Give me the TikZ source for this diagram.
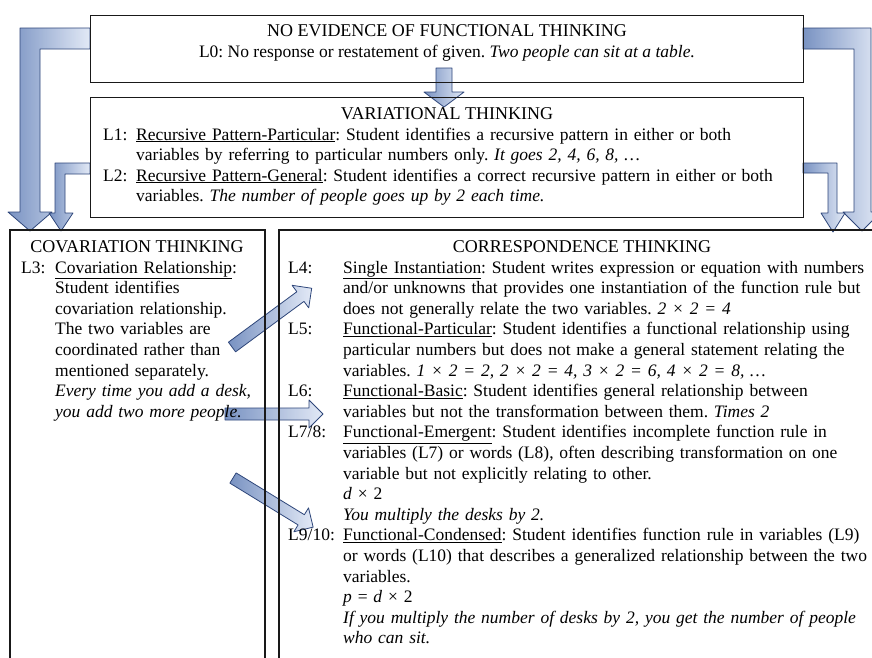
\documentclass[tikz,border=0pt]{standalone}
\usepackage{fontspec}
\setmainfont{Liberation Serif}
\usepackage{xcolor}
\usetikzlibrary{positioning,backgrounds}
\definecolor{arrowdark}{RGB}{98,128,184}
\definecolor{arrowlight}{RGB}{222,230,245}
\definecolor{arrowline}{RGB}{46,70,122}
\newcommand{\boxfont}{\fontsize{17.5}{20.6}\selectfont\frenchspacing}
\newcommand{\headfont}{\fontsize{18}{20.6}\selectfont}

\begin{document}
\begin{tikzpicture}[x=1pt, y=-1pt,
    frame/.style={draw=black!90, line width=1.4pt, anchor=north west, inner sep=0pt},
    head/.style={anchor=base, inner sep=0pt, font=\headfont},
    lvl/.style={anchor=base west, inner sep=0pt, font=\boxfont},
    desc/.style={anchor=base west, inner sep=0pt, font=\boxfont, align=left, text width=#1},
    desc/.default=600pt,
    blockarrow/.style={draw=arrowline, line width=0.8pt, line join=round, left color=arrowdark, right color=arrowlight, fill opacity=0.85},
    pics/barrow/.style={code={
        \path[blockarrow] (0,-6) -- (#1-14,-6) -- (#1-14,-14) -- (#1,0) -- (#1-14,14) -- (#1-14,6) -- (0,6) -- cycle;}}
]
\useasboundingbox (0,0) rectangle (872,657);

\node[frame, minimum width=713pt, minimum height=67pt] (noev) at (90,15) {};
\node[frame, minimum width=713pt, minimum height=120pt] (varia) at (90,97) {};
\draw[black!90, line width=1.4pt] (10,662) -- (10,230) -- (265,230) -- (265,662);
\draw[black!90, line width=1.4pt] (279,662) -- (279,230) -- (880,230);

\node[head] (t0) at (447,36) {NO EVIDENCE OF FUNCTIONAL THINKING};
\node[lvl, anchor=base] (l0) at (447,57) {L0: No response or restatement of given. \textit{Two people can sit at a table.}};

\node[head] (t1) at (447,119) {VARIATIONAL THINKING};
\node[lvl] (l1) at (103,140) {L1:};
\node[desc=700pt] (d1) at (136,140) {\underline{Recursive Pattern-Particular}: Student identifies a recursive pattern in either or both\\
    variables by referring to particular numbers only. \textit{It goes 2, 4, 6, 8, \dots}};
\node[lvl] (l2) at (103,181) {L2:};
\node[desc=700pt] (d2) at (136,181) {\underline{Recursive Pattern-General}: Student identifies a correct recursive pattern in either or both\\
    variables. \textit{The number of people goes up by 2 each time.}};

\node[head] (t3) at (137,252) {COVARIATION THINKING};
\node[lvl] (l3) at (21,273) {L3:};
\node[desc=205pt] (d3) at (55,273) {\underline{Covariation Relationship}:\\
    Student identifies\\
    covariation relationship.\\
    The two variables are\\
    coordinated rather than\\
    mentioned separately.\\
    \textit{Every time you add a desk,}\\
    \textit{you add two more people.}};

\node[head] (t4) at (582,252) {CORRESPONDENCE THINKING};
\node[lvl] (l4) at (288,273) {L4:};
\node[desc] (d4) at (343,273) {\underline{Single Instantiation}: Student writes expression or equation with numbers\\
    and/or unknowns that provides one instantiation of the function rule but\\
    does not generally relate the two variables. \textit{2 × 2 = 4}};
\node[lvl] (l5) at (288,334.8) {L5:};
\node[desc] (d5) at (343,334.8) {\underline{Functional-Particular}: Student identifies a functional relationship using\\
    particular numbers but does not make a general statement relating the\\
    variables. \textit{1 × 2 = 2, 2 × 2 = 4, 3 × 2 = 6, 4 × 2 = 8, \dots}};
\node[lvl] (l6) at (288,396.6) {L6:};
\node[desc] (d6) at (343,396.6) {\underline{Functional-Basic}: Student identifies general relationship between\\
    variables but not the transformation between them. \textit{Times 2}};
\node[lvl] (l7) at (288,437.8) {L7/8:};
\node[desc] (d7) at (343,437.8) {\underline{Functional-Emergent}: Student identifies incomplete function rule in\\
    variables (L7) or words (L8), often describing transformation on one\\
    variable but not explicitly relating to other.\\
    \textit{d} × 2\\
    \textit{You multiply the desks by 2.}};
\node[lvl] (l9) at (288,540.8) {L9/10:};
\node[desc] (d9) at (343,540.8) {\underline{Functional-Condensed}: Student identifies function rule in variables (L9)\\
    or words (L10) that describes a generalized relationship between the two\\
    variables.\\
    \textit{p} = \textit{d} × 2\\
    \textit{If you multiply the number of desks by 2, you get the number of people}\\
    \textit{who can sit.}};

\begin{scope}[on background layer]
\fill[white] (0,0) rectangle (872,657);
\path[blockarrow] (90,28) -- (20,28) -- (20,212) -- (8,212) -- (30,231) -- (52,212) -- (40,212) -- (40,49) -- (90,49) -- cycle;
\path[blockarrow] (90,163) -- (55,163) -- (55,213) -- (49,213) -- (61,231) -- (73,213) -- (65,213) -- (65,174) -- (90,174) -- cycle;
\path[blockarrow] (803,28) -- (871,28) -- (871,212) -- (881,212) -- (862,231) -- (843,212) -- (854,212) -- (854,49) -- (803,49) -- cycle;
\path[blockarrow] (803,163) -- (837,163) -- (837,213) -- (845,213) -- (833,232) -- (821,213) -- (828,213) -- (828,173) -- (803,173) -- cycle;
\path[blockarrow] (436,68) -- (452,68) -- (452,92) -- (464,92) -- (444,107) -- (424,92) -- (436,92) -- cycle;
\pic[rotate=36.4] (toL4) at (232,347) {barrow=99};
\pic (toL6) at (225,414) {barrow=98};
\pic[rotate=-31.5] (toL9) at (233,478) {barrow=94};
\end{scope}
\end{tikzpicture}
\end{document}
